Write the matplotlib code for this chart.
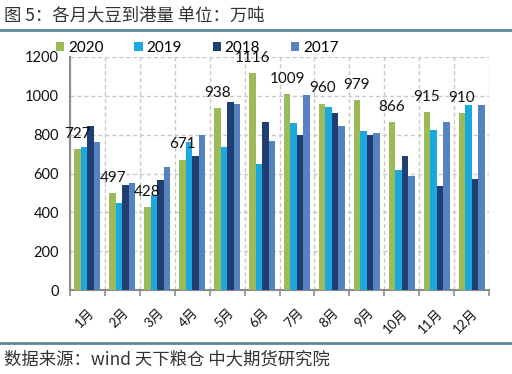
import matplotlib
matplotlib.use("Agg")
import matplotlib.pyplot as plt
from matplotlib.patches import Patch
from matplotlib.lines import Line2D
import numpy as np

months = ["1月", "2月", "3月", "4月", "5月", "6月", "7月", "8月", "9月", "10月", "11月", "12月"]
s2020 = [727, 497, 428, 671, 938, 1116, 1009, 960, 979, 866, 915, 910]
s2019 = [735, 448, 490, 763, 735, 649, 861, 943, 820, 619, 825, 954]
s2018 = [845, 541, 567, 691, 969, 866, 799, 912, 799, 691, 536, 572]
s2017 = [763, 552, 634, 799, 959, 768, 1005, 845, 809, 588, 866, 954]
series_names = ["2020", "2019", "2018", "2017"]
colors = ["#9BBB59", "#1BA8DE", "#1F3F73", "#5483C0"]

title = "图 5：各月大豆到港量 单位：万吨"
source = "数据来源：wind 天下粮仓 中大期货研究院"

num_font = ["Lato", "Noto Sans CJK SC"]
cjk_font = ["Noto Sans CJK SC", "DejaVu Sans"]

fig = plt.figure(figsize=(5.12, 3.74), dpi=100)
ax = fig.add_axes([70/512, 1-290/374, (489-70)/512, (290-57)/374])

x = np.arange(len(months))
w = 0.186
data = [s2020, s2019, s2018, s2017]
for k, (vals, c) in enumerate(zip(data, colors)):
    ax.bar(x + (k - 1.5) * w, vals, width=w, color=c, zorder=3, linewidth=0)

for i, v in enumerate(s2020):
    ax.annotate(str(v), (x[i] - 1.5 * w, v), xytext=(0, 6), textcoords="offset points",
                ha="center", va="bottom", fontsize=11, family=num_font, color="#111111")

ax.set_xlim(-0.5, len(months) - 0.5)
ax.set_ylim(0, 1200)
ax.set_yticks(range(0, 1201, 200))
ax.tick_params(axis="y", length=0, pad=8, labelsize=10.5, labelcolor="#111111")
for lab in ax.get_yticklabels():
    lab.set_family(num_font)

ax.set_xticks(x)
ax.set_xticklabels(months, rotation=45, ha="right", rotation_mode="anchor",
                   family=num_font, fontsize=9.5, color="#111111")
ax.tick_params(axis="x", which="major", length=0, pad=12)
ax.set_xticks(np.arange(-0.5, len(months), 1), minor=True)
ax.tick_params(axis="x", which="minor", length=4, width=1.2, color="#8C8C8C", direction="out")

ax.grid(axis="y", which="major", linestyle=(0, (3, 2)), color="#C8C8C8", linewidth=1, zorder=0)
ax.grid(axis="x", which="minor", linestyle=(0, (3, 2)), color="#C8C8C8", linewidth=1, zorder=0)
ax.grid(axis="x", which="major", visible=False)

for s in ["top", "right"]:
    ax.spines[s].set_visible(False)
for s in ["left", "bottom"]:
    ax.spines[s].set_color("#8C8C8C")
    ax.spines[s].set_linewidth(1.5)

handles = [Patch(facecolor=c, edgecolor="none") for c in colors]
fig.legend(handles, series_names, loc="center left", bbox_to_anchor=(56/512, 1-48/374),
           ncol=4, frameon=False, handlelength=0.55, handleheight=0.55,
           handletextpad=0.25, columnspacing=2.0, borderaxespad=0, borderpad=0,
           prop={"family": num_font, "size": 11})

fig.text(4/512, 1-15/374, title, family=cjk_font, fontsize=12.5, color="#333333",
         ha="left", va="center")
fig.add_artist(Line2D([0, 1], [1-30/374, 1-30/374], transform=fig.transFigure,
                      color="#5B8A96", linewidth=2))
fig.add_artist(Line2D([0, 1], [1-343/374, 1-343/374], transform=fig.transFigure,
                      color="#5B8A96", linewidth=2))
fig.text(4/512, 1-359/374, source, family=cjk_font, fontsize=12.5, color="#333333",
         ha="left", va="center")

fig.savefig("out.png", dpi=100)
